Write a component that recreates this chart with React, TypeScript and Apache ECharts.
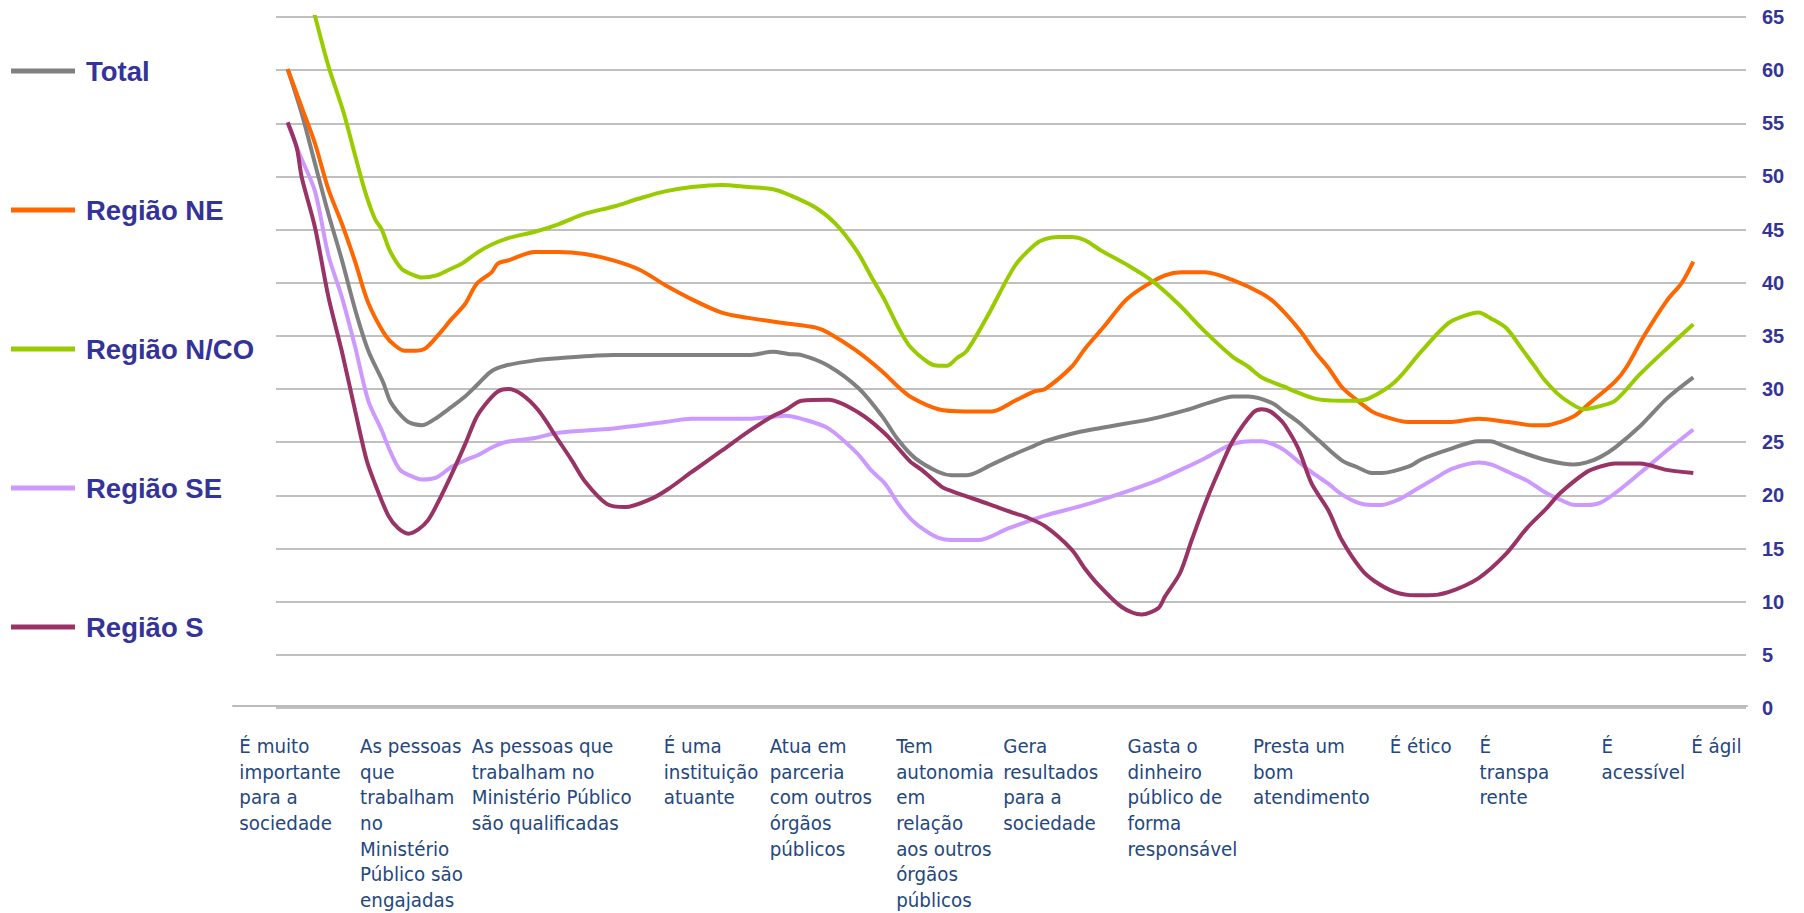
import React, { useEffect, useRef } from "react";
import * as echarts from "echarts";

// Category labels (wrapped as in the reference) and their positions on the x scale (category units)
const categories = [
  "É muito\nimportante\npara a\nsociedade",
  "As pessoas\nque\ntrabalham\nno\nMinistério\nPúblico são\nengajadas",
  "As pessoas que\ntrabalham no\nMinistério Público\nsão qualificadas",
  "É uma\ninstituição\natuante",
  "Atua em\nparceria\ncom outros\nórgãos\npúblicos",
  "Tem\nautonomia\nem\nrelação\naos outros\nórgãos\npúblicos",
  "Gera\nresultados\npara a\nsociedade",
  "Gasta o\ndinheiro\npúblico de\nforma\nresponsável",
  "Presta um\nbom\natendimento",
  "É ético",
  "É\ntranspa\nrente",
  "É\nacessível",
  "É ágil",
];
const categoryPositions = [-0.413, 0.618, 1.571, 3.211, 4.115, 5.195, 6.109, 7.17, 8.241, 9.409, 10.175, 11.217, 11.983];

const yTicks = { min: 0, max: 65, interval: 5 };

const seriesNames = ["Total", "Região NE", "Região N/CO", "Região SE", "Região S"];
const seriesColors = ["#808080", "#FF6600", "#99CC00", "#CC99FF", "#993366"];

const totalData = [
  [0, 60.1], [0.12, 55.9], [0.233, 51.2], [0.347, 46.5], [0.461, 42.2], [0.575, 37.5], [0.688, 33.6],
  [0.816, 30.6], [0.873, 28.9], [0.944, 27.8], [1.03, 26.9], [1.144, 26.6], [1.258, 27.2], [1.371, 28.1],
  [1.514, 29.3], [1.627, 30.5], [1.742, 31.7], [1.855, 32.2], [2.111, 32.7], [2.31, 32.9], [2.78, 33.2],
  [3.705, 33.2], [3.932, 33.2], [4.146, 33.5], [4.274, 33.3], [4.388, 33.2], [4.615, 32.2], [4.872, 30.1],
  [5.071, 27.5], [5.213, 25.2], [5.356, 23.5], [5.555, 22.2], [5.669, 21.9], [5.797, 21.9], [6.01, 22.9],
  [6.209, 23.9], [6.38, 24.7], [6.465, 25.1], [6.693, 25.8], [6.92, 26.3], [7.377, 27.2], [7.661, 28.0],
  [7.889, 28.8], [8.073, 29.3], [8.201, 29.3], [8.401, 28.7], [8.514, 27.8], [8.628, 26.9], [8.799, 25.2],
  [8.999, 23.3], [9.14, 22.6], [9.255, 22.1], [9.34, 22.1], [9.567, 22.7], [9.682, 23.4], [9.909, 24.3],
  [10.165, 25.1], [10.265, 25.1], [10.393, 24.6], [10.549, 24.0], [10.749, 23.3], [10.976, 22.9],
  [11.09, 23.1], [11.204, 23.6], [11.332, 24.5], [11.545, 26.5], [11.773, 29.1], [12, 31.1],
];

const neData = [
  [0, 60.1], [0.12, 56.5], [0.233, 53.1], [0.347, 48.8], [0.461, 45.6], [0.575, 42.0], [0.688, 38.1],
  [0.831, 35.1], [0.916, 34.1], [1.001, 33.6], [1.087, 33.6], [1.172, 33.8], [1.286, 35.1], [1.4, 36.6],
  [1.514, 38.0], [1.614, 39.9], [1.742, 41.0], [1.793, 41.8], [1.883, 42.1], [2.111, 42.9], [2.31, 42.9],
  [2.538, 42.7], [2.78, 42.1], [3.008, 41.2], [3.221, 39.8], [3.477, 38.3], [3.705, 37.2], [3.932, 36.7],
  [4.246, 36.2], [4.502, 35.8], [4.615, 35.3], [4.843, 33.7], [5.071, 31.7], [5.213, 30.2], [5.327, 29.2],
  [5.555, 28.1], [5.783, 27.9], [6.01, 27.9], [6.209, 28.9], [6.38, 29.8], [6.465, 30.0], [6.693, 32.1],
  [6.807, 33.8], [6.978, 36.0], [7.149, 38.3], [7.291, 39.5], [7.49, 40.7], [7.633, 41.0], [7.832, 41.0],
  [8.06, 40.3], [8.316, 39.0], [8.429, 38.1], [8.543, 36.8], [8.657, 35.3], [8.771, 33.5], [8.884, 32.0],
  [8.999, 30.2], [9.112, 29.1], [9.255, 27.9], [9.34, 27.5], [9.567, 26.9], [9.909, 26.9], [10.165, 27.2],
  [10.421, 26.9], [10.634, 26.6], [10.749, 26.6], [10.862, 26.9], [10.99, 27.5], [11.118, 28.7],
  [11.332, 30.7], [11.432, 32.1], [11.574, 34.9], [11.773, 38.3], [11.902, 40.0], [12, 42.0],
];

const ncoData = [
  [0, 74], [0.227, 65.3], [0.347, 60.4], [0.475, 56.1], [0.575, 52.0], [0.66, 48.6], [0.745, 46.0],
  [0.803, 45.0], [0.873, 43.0], [0.973, 41.3], [1.059, 40.8], [1.144, 40.5], [1.272, 40.7], [1.371, 41.2],
  [1.486, 41.8], [1.627, 42.9], [1.742, 43.6], [1.883, 44.2], [2.111, 44.8], [2.31, 45.5], [2.538, 46.5],
  [2.794, 47.2], [2.993, 47.9], [3.221, 48.6], [3.449, 49.0], [3.705, 49.2], [3.932, 49.0], [4.146, 48.8],
  [4.274, 48.3], [4.502, 47.1], [4.672, 45.6], [4.858, 43.0], [4.986, 40.5], [5.1, 38.3], [5.213, 35.8],
  [5.313, 34.0], [5.469, 32.5], [5.555, 32.2], [5.627, 32.2], [5.712, 32.9], [5.797, 33.6], [5.981, 37.0],
  [6.209, 41.6], [6.38, 43.6], [6.465, 44.1], [6.579, 44.3], [6.693, 44.3], [6.807, 44.0], [6.949, 43.0],
  [7.149, 41.8], [7.377, 40.2], [7.604, 38.0], [7.832, 35.4], [8.06, 33.1], [8.201, 32.1], [8.316, 31.1],
  [8.514, 30.2], [8.572, 29.9], [8.771, 29.1], [8.999, 28.9], [9.112, 28.9], [9.226, 29.1], [9.454, 30.7],
  [9.682, 33.6], [9.909, 36.2], [10.051, 36.9], [10.165, 37.2], [10.279, 36.6], [10.407, 35.7],
  [10.535, 33.8], [10.649, 32.1], [10.72, 31.0], [10.848, 29.5], [10.947, 28.7], [11.061, 28.1],
  [11.204, 28.4], [11.332, 28.9], [11.545, 31.4], [11.773, 33.8], [12, 36.1],
];

const seData = [
  [0, 55], [0.105, 52.0], [0.233, 48.6], [0.347, 42.6], [0.461, 38.7], [0.575, 34.0], [0.688, 28.9],
  [0.803, 26.1], [0.873, 24.2], [0.959, 22.4], [1.059, 21.8], [1.144, 21.5], [1.272, 21.7], [1.4, 22.7],
  [1.514, 23.3], [1.627, 23.8], [1.742, 24.5], [1.855, 25.0], [2.111, 25.4], [2.31, 25.9], [2.78, 26.3],
  [3.221, 26.9], [3.449, 27.2], [3.932, 27.2], [4.246, 27.5], [4.388, 27.2], [4.615, 26.3], [4.858, 24.0],
  [4.986, 22.3], [5.1, 21.1], [5.213, 19.2], [5.327, 17.7], [5.441, 16.7], [5.555, 16.0], [5.669, 15.8],
  [5.896, 15.8], [6.152, 16.9], [6.38, 17.8], [6.465, 18.1], [6.864, 19.3], [7.377, 21.2], [7.604, 22.3],
  [7.832, 23.5], [8.06, 24.8], [8.23, 25.1], [8.316, 25.1], [8.415, 24.8], [8.514, 24.2], [8.714, 22.4],
  [8.884, 21.1], [8.999, 20.1], [9.14, 19.3], [9.255, 19.1], [9.34, 19.1], [9.482, 19.6], [9.625, 20.5],
  [9.795, 21.6], [9.938, 22.5], [10.165, 23.1], [10.279, 22.9], [10.421, 22.2], [10.578, 21.4],
  [10.749, 20.2], [10.862, 19.6], [10.99, 19.1], [11.09, 19.1], [11.204, 19.3], [11.332, 20.2],
  [11.545, 22.1], [11.773, 24.2], [12, 26.2],
];

const sData = [
  [0, 55.1], [0.077, 52.7], [0.12, 49.9], [0.233, 45.2], [0.347, 38.7], [0.461, 33.6], [0.575, 28.0],
  [0.674, 23.3], [0.745, 21.1], [0.859, 18.1], [0.944, 16.9], [1.03, 16.4], [1.115, 16.8], [1.2, 17.7],
  [1.286, 19.4], [1.4, 22.0], [1.514, 24.8], [1.614, 27.4], [1.713, 28.9], [1.798, 29.8], [1.883, 30.0],
  [1.998, 29.5], [2.14, 28.0], [2.31, 25.2], [2.425, 23.3], [2.538, 21.3], [2.723, 19.2], [2.88, 18.9],
  [3.108, 19.7], [3.249, 20.6], [3.449, 22.2], [3.705, 24.2], [3.932, 26.0], [4.132, 27.4], [4.246, 28.0],
  [4.388, 28.9], [4.615, 29.0], [4.872, 27.8], [5.1, 25.8], [5.313, 23.2], [5.413, 22.4], [5.584, 20.8],
  [5.669, 20.4], [5.981, 19.2], [6.209, 18.3], [6.295, 18.0], [6.465, 17.1], [6.693, 14.9], [6.807, 13.1],
  [6.92, 11.6], [7.12, 9.5], [7.291, 8.8], [7.433, 9.4], [7.49, 10.5], [7.618, 12.7], [7.718, 15.8],
  [7.846, 19.6], [7.974, 22.9], [8.073, 25.2], [8.244, 27.8], [8.316, 28.1], [8.387, 27.9], [8.457, 27.3],
  [8.514, 26.6], [8.628, 24.4], [8.742, 21.1], [8.884, 18.6], [8.999, 15.8], [9.169, 13.0], [9.283, 11.9],
  [9.454, 10.9], [9.625, 10.6], [9.738, 10.6], [9.909, 10.9], [10.165, 12.2], [10.393, 14.4],
  [10.578, 16.9], [10.749, 18.8], [10.862, 20.2], [11.09, 22.2], [11.204, 22.7], [11.332, 23.0],
  [11.545, 23.0], [11.773, 22.4], [12, 22.1],
];

const allData = [totalData, neData, ncoData, seData, sData];

export default function App() {
  const ref = useRef<HTMLDivElement>(null);
  useEffect(() => {
    if (!ref.current) return;
    const chart = echarts.init(ref.current, undefined, { renderer: "svg" });
    const gridColor = "#C0C0C0";
    chart.setOption({
      animation: false,
      backgroundColor: "#FFFFFF",
      legend: {
        data: seriesNames,
        orient: "vertical",
        left: 11,
        top: 54,
        padding: 0,
        icon: "rect",
        itemWidth: 64,
        itemHeight: 5,
        itemGap: 105,
        selectedMode: false,
        textStyle: {
          fontFamily: "'Liberation Sans', Arial, sans-serif",
          fontSize: 27.5,
          fontWeight: "bold",
          color: "#333399",
          lineHeight: 34,
          padding: [0, 0, 0, 6],
        },
      },
      grid: [
        { left: 276, top: 17, width: 1470, height: 691 },
        { left: 233, top: 700, width: 1514, height: 8 },
      ],
      xAxis: [
        {
          type: "value",
          gridIndex: 0,
          min: -0.1,
          max: 12.45,
          show: false,
        },
        {
          type: "value",
          gridIndex: 1,
          min: -0.467,
          max: 12.459,
          axisLine: { show: true, lineStyle: { color: "#BBBBBB", width: 2 } },
          axisTick: { show: false },
          splitLine: { show: false },
          axisLabel: {
            customValues: categoryPositions,
            formatter: (v: number) => {
              const i = categoryPositions.findIndex((p) => Math.abs(p - v) < 1e-6);
              return i >= 0 ? categories[i] : "";
            },
            align: "left",
            verticalAlign: "top",
            margin: 27,
            lineHeight: 25.7,
            fontFamily: "'DejaVu Sans Condensed', 'DejaVu Sans', sans-serif",
            fontSize: 20.3,
            color: "#24477F",
          },
        },
      ],
      yAxis: [
        {
          type: "value",
          gridIndex: 0,
          position: "right",
          min: yTicks.min,
          max: yTicks.max,
          interval: yTicks.interval,
          axisLine: { show: false },
          axisTick: { show: false },
          splitLine: { show: true, lineStyle: { color: gridColor, width: 2 } },
          axisLabel: {
            margin: 16,
            fontFamily: "'Liberation Sans', Arial, sans-serif",
            fontSize: 20,
            fontWeight: "bold",
            color: "#333399",
          },
        },
        {
          type: "value",
          gridIndex: 1,
          min: 0,
          max: 1,
          show: false,
        },
      ],
      series: seriesNames.map((name, i) => ({
        name,
        type: "line",
        xAxisIndex: 0,
        yAxisIndex: 0,
        data: allData[i],
        smooth: 0.3,
        showSymbol: false,
        symbol: "none",
        clip: true,
        lineStyle: { color: seriesColors[i], width: 4 },
        itemStyle: { color: seriesColors[i] },
        z: 2 + i,
      })),
    });
    return () => chart.dispose();
  }, []);
  return (
    <div
      ref={ref}
      style={{ position: "absolute", left: 0, top: 0, width: 1804, height: 913, background: "#fff" }}
    />
  );
}
